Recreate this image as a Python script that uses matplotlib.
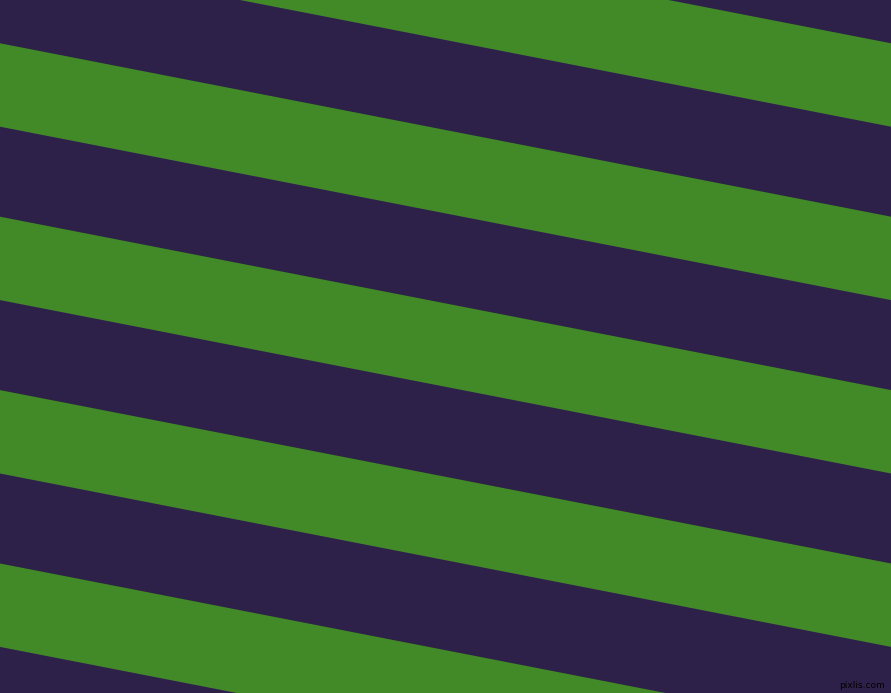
import numpy as np
import matplotlib
matplotlib.use("Agg")
import matplotlib.pyplot as plt

stripe_colors = ["#2e2149", "#428a28"]          # purple background, green stripes
green_top_at_left = [-130.1, 43.3, 216.7, 390.1, 563.5]   # top edges of green bands at x = 0
green_width = 83.4                                 # vertical thickness of each green band
slope = 0.1946                                     # downward drop per pixel to the right
width_px, height_px = 891, 693
watermark = "pixlis.com"

fig = plt.figure(figsize=(width_px / 100, height_px / 100), dpi=100)
ax = fig.add_axes([0, 0, 1, 1])
ax.set_xlim(0, width_px)
ax.set_ylim(height_px, 0)
ax.axis("off")
ax.set_facecolor(stripe_colors[0])
fig.patch.set_facecolor(stripe_colors[0])

x = np.array([0.0, float(width_px)])
for top in green_top_at_left:
    y1 = top + slope * x
    y2 = top + green_width + slope * x
    ax.fill_between(x, y1, y2, color=stripe_colors[1], linewidth=0, antialiased=True)

ax.text(width_px - 6, height_px - 3, watermark, ha="right", va="bottom",
        fontsize=6.5, color="#000000", family="DejaVu Sans")

fig.savefig("out.png", dpi=100, facecolor=fig.get_facecolor())
